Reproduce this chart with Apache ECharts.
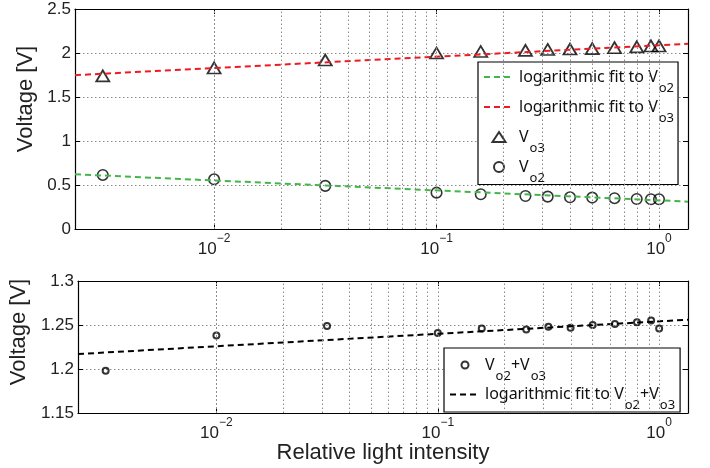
<!DOCTYPE html>
<html>
<head>
<meta charset="utf-8">
<script src="https://cdn.jsdelivr.net/npm/echarts@6/dist/echarts.min.js"></script>
<style>
  html, body { margin: 0; padding: 0; background: #fff; }
  #main { width: 710px; height: 468px; }
</style>
</head>
<body>
<div id="main"></div>
<script>
// relative light intensity of each measurement
const intensity = [0.00316, 0.01, 0.0316, 0.1, 0.158, 0.251, 0.316, 0.398, 0.501, 0.631, 0.794, 0.92, 1.0];
const vo3 = [1.74, 1.83, 1.92, 2.00, 2.017, 2.03, 2.04, 2.045, 2.05, 2.06, 2.07, 2.08, 2.08];
const vo2 = [0.614, 0.565, 0.49, 0.413, 0.395, 0.375, 0.368, 0.36, 0.357, 0.35, 0.341, 0.338, 0.338];
const vsum = [1.198, 1.238, 1.249, 1.241, 1.246, 1.245, 1.248, 1.247, 1.250, 1.251, 1.253, 1.255, 1.246];
// fitted lines, ends read at the plot edges
const fitX = [0.00237, 1.35];
const fitVo2 = [0.622, 0.311];
const fitVo3 = [1.748, 2.105];
const fitSum = [1.217, 1.256];
// dotted vertical grid positions (decades and their multiples)
const gridX = [0.003, 0.004, 0.005, 0.006, 0.007, 0.008, 0.009,
  0.01, 0.02, 0.03, 0.04, 0.05, 0.06, 0.07, 0.08, 0.09,
  0.1, 0.2, 0.3, 0.4, 0.5, 0.6, 0.7, 0.8, 0.9, 1];

const legendNames = {
  fit2: '{n|logarithmic fit to V}{s|o2}',
  fit3: '{n|logarithmic fit to V}{s|o3}',
  v3: '{n|V}{s|o3}',
  v2: '{n|V}{s|o2}',
  sum: '{n|V}{s|o2}{n|+V}{s|o3}',
  fitSum: '{n|logarithmic fit to V}{s|o2}{n|+V}{s|o3}'
};

const pairs = (xs, ys) => xs.map((x, i) => [x, ys[i]]);
const gridLine = { type: [1.5, 2.5], color: '#8a8a8a', width: 1 };
const labelFont = 'Liberation Sans, Arial, sans-serif';
const legendFont = 'Noto Sans, sans-serif';

function xAxisFor(gridIndex, pos, withLabels, name) {
  return {
    type: 'log', logBase: 10, gridIndex: gridIndex, position: pos,
    min: fitX[0], max: fitX[1],
    name: name || '', nameLocation: 'middle', nameGap: 28,
    nameTextStyle: { fontSize: 22, color: '#222', fontFamily: labelFont },
    axisLine: { show: true, onZero: false, lineStyle: { color: '#000', width: 1.2 } },
    axisTick: { show: true, inside: true, length: 5, lineStyle: { color: '#000' } },
    splitLine: { show: false },
    axisLabel: {
      show: withLabels, showMinLabel: false, showMaxLabel: false, margin: 4,
      formatter: v => '{b|10}{e|' + String(Math.round(Math.log10(v))).replace('-', '\u2212') + '}',
      rich: {
        b: { fontSize: 17, color: '#222', fontFamily: labelFont },
        e: { fontSize: 12, color: '#222', fontFamily: labelFont, padding: [0, 0, 20, 0] }
      }
    }
  };
}

function yAxisFor(gridIndex, pos, min, max, interval, withLabels, shift) {
  return {
    type: 'value', gridIndex: gridIndex, position: pos,
    min: min, max: max, interval: interval,
    name: withLabels ? 'Voltage [V]' : '', nameLocation: 'middle', nameGap: 34,
    nameTextStyle: { fontSize: 22, color: '#222', fontFamily: labelFont, padding: [0, 0, 0, shift] },
    axisLine: { show: true, lineStyle: { color: '#000', width: 1.2 } },
    axisTick: { show: true, inside: true, length: 5, lineStyle: { color: '#000' } },
    splitLine: { show: pos === 'left', lineStyle: gridLine },
    axisLabel: {
      show: withLabels, margin: 4, fontSize: 17, color: '#222', fontFamily: labelFont,
      formatter: v => String(+v.toFixed(2))
    }
  };
}

function verticalGrid(xi, yi) {
  return {
    type: 'line', xAxisIndex: xi, yAxisIndex: yi, data: [], silent: true, z: 1,
    markLine: {
      silent: true, symbol: ['none', 'none'], animation: false,
      label: { show: false },
      lineStyle: gridLine,
      data: gridX.map(v => ({ xAxis: v }))
    }
  };
}

// subscripts: the small token sits at the bottom of a tall line
const legendText = {
  fontSize: 16, color: '#111', fontFamily: legendFont,
  rich: {
    n: { fontSize: 16, color: '#111', fontFamily: legendFont, lineHeight: 35 },
    s: { fontSize: 13, color: '#111', fontFamily: legendFont, lineHeight: 4, verticalAlign: 'bottom', padding: [0, 0, 0, 1] }
  }
};
const noDot = { color: 'rgba(0,0,0,0)', borderWidth: 0 };
const triangleIcon = 'path://M6.5,0L13,10L0,10Z';

const chart = echarts.init(document.getElementById('main'), null, { renderer: 'canvas' });
chart.setOption({
  animation: false,
  grid: [
    { left: 75, right: 22, top: 9, height: 220 },
    { left: 75, right: 22, top: 281, height: 132 }
  ],
  xAxis: [
    xAxisFor(0, 'bottom', true),
    xAxisFor(0, 'top', false),
    xAxisFor(1, 'bottom', true, 'Relative light intensity'),
    xAxisFor(1, 'top', false)
  ],
  yAxis: [
    yAxisFor(0, 'left', 0, 2.5, 0.5, true, 40),
    yAxisFor(0, 'right', 0, 2.5, 0.5, false, 0),
    yAxisFor(1, 'left', 1.15, 1.3, 0.05, true, 30),
    yAxisFor(1, 'right', 1.15, 1.3, 0.05, false, 0)
  ],
  legend: [
    {
      data: [
        { name: 'fit2', itemStyle: noDot },
        { name: 'fit3', itemStyle: noDot },
        { name: 'v3', icon: triangleIcon },
        { name: 'v2' }
      ],
      orient: 'vertical', left: 478, top: 62, itemWidth: 30, itemHeight: 10, itemGap: 4.5,
      backgroundColor: '#fff', borderColor: '#000', borderWidth: 1.2,
      padding: [7, 4, 0, 5],
      formatter: n => legendNames[n], textStyle: legendText
    },
    {
      data: [
        { name: 'sum' },
        { name: 'fitSum', itemStyle: noDot }
      ],
      orient: 'vertical', left: 444, top: 348, itemWidth: 30, itemHeight: 7, itemGap: 4,
      backgroundColor: '#fff', borderColor: '#000', borderWidth: 1.2,
      padding: [9, 5, 0, 5],
      formatter: n => legendNames[n], textStyle: legendText
    }
  ],
  series: [
    verticalGrid(0, 0),
    verticalGrid(2, 2),
    {
      name: 'fit2', type: 'line', xAxisIndex: 0, yAxisIndex: 0, data: pairs(fitX, fitVo2),
      symbol: 'none', lineStyle: { color: '#44b649', width: 2, type: [6, 4] }, itemStyle: noDot
    },
    {
      name: 'fit3', type: 'line', xAxisIndex: 0, yAxisIndex: 0, data: pairs(fitX, fitVo3),
      symbol: 'none', lineStyle: { color: '#ed1c24', width: 2, type: [6, 4] }, itemStyle: noDot
    },
    {
      name: 'v3', type: 'scatter', xAxisIndex: 0, yAxisIndex: 0, data: pairs(intensity, vo3),
      symbol: 'triangle', symbolSize: [13, 11],
      itemStyle: { color: 'rgba(0,0,0,0)', borderColor: '#000', borderWidth: 1.8 }
    },
    {
      name: 'v2', type: 'scatter', xAxisIndex: 0, yAxisIndex: 0, data: pairs(intensity, vo2),
      symbol: 'circle', symbolSize: 10.5,
      itemStyle: { color: 'rgba(0,0,0,0)', borderColor: '#000', borderWidth: 1.6 }
    },
    {
      name: 'sum', type: 'scatter', xAxisIndex: 2, yAxisIndex: 2, data: pairs(intensity, vsum),
      symbol: 'circle', symbolSize: 6,
      itemStyle: { color: 'rgba(0,0,0,0)', borderColor: '#000', borderWidth: 2 }
    },
    {
      name: 'fitSum', type: 'line', xAxisIndex: 2, yAxisIndex: 2, data: pairs(fitX, fitSum),
      symbol: 'none', lineStyle: { color: '#000', width: 2, type: [6, 4] }, itemStyle: noDot
    }
  ]
});
</script>
</body>
</html>
